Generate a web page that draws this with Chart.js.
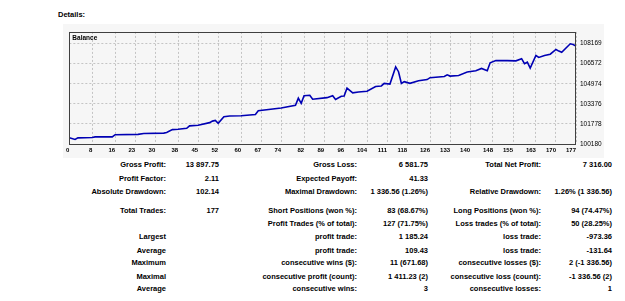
<!DOCTYPE html>
<html>
<head>
<meta charset="utf-8">
<script src="https://cdn.jsdelivr.net/npm/chart.js@4"></script>
<style>
  body { margin: 0; background: #fff; width: 625px; height: 301px; overflow: hidden; position: relative;
         font-family: "Liberation Sans", Arial, sans-serif; font-weight: bold; color: #000; }
  #title { position: absolute; left: 58px; top: 10px; font-size: 7.5px; line-height: 10px; }
  #box { position: absolute; left: 63px; top: 24px; width: 541px; height: 134px; }
  .cell { position: absolute; font-size: 7.5px; line-height: 10px; white-space: nowrap; text-align: right; }
</style>
</head>
<body>
<div id="title">Details:</div>
<div id="box"><canvas id="balanceChart"></canvas></div>
<div id="stats"></div>
<script>
// balance, by trade number
const tradeNo = [0, 2, 3, 8, 9, 15, 16, 24, 26, 33, 34, 36, 38, 41, 42, 45, 49, 50, 51, 52, 54, 56, 60, 65, 66,
    74, 79, 80, 81, 82, 84, 85, 90, 92, 93, 95, 96, 97, 99, 101, 104, 107, 109, 110, 112, 114, 115, 116, 117, 119,
    122, 125, 126, 131, 132, 133, 136, 139, 142, 144, 146, 147, 149, 153, 156, 158, 159, 160, 161, 163, 164, 166,
    168, 170, 171, 172, 175, 176, 177];
const balance = [100671, 100543, 100671, 100694, 100747, 100747, 100921, 100944, 101019, 101049, 101095, 101322,
    101352, 101427, 101624, 101677, 101881, 102002, 102055, 101820, 102357, 102410, 102433, 102531, 102826,
    103038, 103264, 103831, 103416, 104020, 104058, 103741, 103869, 104020, 103718, 103983, 104005, 104625,
    104247, 104323, 104376, 104754, 104799, 105003, 104950, 106311, 105933, 105003, 105139, 105003,
    105207, 105306, 105457, 105555, 105684, 105585, 105631, 105910, 106009, 106190, 106009, 106644, 106818,
    106818, 106795, 106969, 106568, 106689, 106213, 107219, 107067, 107219, 107324, 107702, 107574, 107475,
    108156, 108103, 107974];

const xTicks = [0, 8, 16, 23, 30, 38, 45, 52, 60, 67, 74, 82, 89, 96, 104, 111, 118, 126, 133, 140, 148, 155, 163, 170, 177];
const yTicks = [100180, 101778, 103376, 104974, 106572, 108169];

const statRows = [
    ['Gross Profit:', '13 897.75', 'Gross Loss:', '6 581.75', 'Total Net Profit:', '7 316.00'],
    ['Profit Factor:', '2.11', 'Expected Payoff:', '41.33', '', ''],
    ['Absolute Drawdown:', '102.14', 'Maximal Drawdown:', '1 336.56 (1.26%)', 'Relative Drawdown:', '1.26% (1 336.56)'],
    ['Total Trades:', '177', 'Short Positions (won %):', '83 (68.67%)', 'Long Positions (won %):', '94 (74.47%)'],
    ['', '', 'Profit Trades (% of total):', '127 (71.75%)', 'Loss trades (% of total):', '50 (28.25%)'],
    ['Largest', '', 'profit trade:', '1 185.24', 'loss trade:', '-973.36'],
    ['Average', '', 'profit trade:', '109.43', 'loss trade:', '-131.64'],
    ['Maximum', '', 'consecutive wins ($):', '11 (671.68)', 'consecutive losses ($):', '2 (-1 336.56)'],
    ['Maximal', '', 'consecutive profit (count):', '1 411.23 (2)', 'consecutive loss (count):', '-1 336.56 (2)'],
    ['Average', '', 'consecutive wins:', '3', 'consecutive losses:', '1']
];

// table layout
const rowY = [165, 178.7, 192, 210.7, 224, 237, 250.7, 263.3, 276.7, 289.3];
const colRight = [166, 219, 357, 428, 541, 612];
const stats = document.getElementById('stats');
statRows.forEach((row, r) => {
    row.forEach((txt, c) => {
        if (!txt) return;
        const d = document.createElement('div');
        d.className = 'cell';
        d.textContent = txt;
        d.style.top = (rowY[r] - 5) + 'px';
        d.style.right = (625 - colRight[c]) + 'px';
        stats.appendChild(d);
    });
});

const frame = {
    id: 'frame',
    beforeDraw(chart) {
        const ctx = chart.ctx;
        ctx.save();
        ctx.fillStyle = '#f6f6f6';
        ctx.fillRect(0, 0, chart.width, chart.height);
        ctx.restore();
    },
    afterDraw(chart) {
        const { ctx, chartArea: a } = chart;
        ctx.save();
        ctx.strokeStyle = '#404040';
        ctx.lineWidth = 1;
        ctx.strokeRect(Math.round(a.left) + 0.5, Math.round(a.top) + 0.5,
            Math.round(a.right - a.left) - 1, Math.round(a.bottom - a.top));
        ctx.fillStyle = '#000';
        ctx.font = 'bold 6.5px "Liberation Sans", Arial, sans-serif';
        ctx.textBaseline = 'middle';
        ctx.fillText('Balance', a.left + 3, a.top + 6.5);
        ctx.restore();
    }
};

new Chart(document.getElementById('balanceChart'), {
    type: 'line',
    data: {
        datasets: [{
            label: 'Balance',
            data: tradeNo.map((t, i) => ({ x: t, y: balance[i] })),
            borderColor: '#0000b4',
            borderWidth: 1.6,
            pointRadius: 0,
            tension: 0,
            fill: false
        }]
    },
    options: {
        responsive: true,
        maintainAspectRatio: false,
        animation: false,
        layout: { padding: { left: 3, top: 2, right: 0, bottom: 0 } },
        plugins: {
            legend: { display: false },
            tooltip: { enabled: false }
        },
        scales: {
            x: {
                type: 'linear',
                min: 0,
                max: 177,
                afterBuildTicks: s => { s.ticks = xTicks.map(v => ({ value: v })); },
                afterFit: s => { s.height = 14; },
                grid: { color: '#c4c4c4', drawTicks: false },
                border: { display: false, dash: [2, 2] },
                ticks: {
                    autoSkip: false,
                    maxRotation: 0,
                    align: 'end',
                    padding: 3,
                    color: '#000',
                    font: { family: '"Liberation Sans", Arial, sans-serif', size: 6, weight: 'bold' },
                    callback: v => String(v)
                }
            },
            y: {
                position: 'right',
                min: 100180,
                max: 109100,
                afterBuildTicks: s => { s.ticks = yTicks.map(v => ({ value: v })); },
                afterFit: s => { s.width = 28; },
                grid: { color: '#c4c4c4', drawTicks: false },
                border: { display: false, dash: [2, 2] },
                ticks: {
                    padding: 4,
                    color: '#000',
                    font: { family: '"Liberation Sans", Arial, sans-serif', size: 6.5 },
                    callback: v => String(v)
                }
            }
        }
    },
    plugins: [frame]
});
</script>
</body>
</html>
